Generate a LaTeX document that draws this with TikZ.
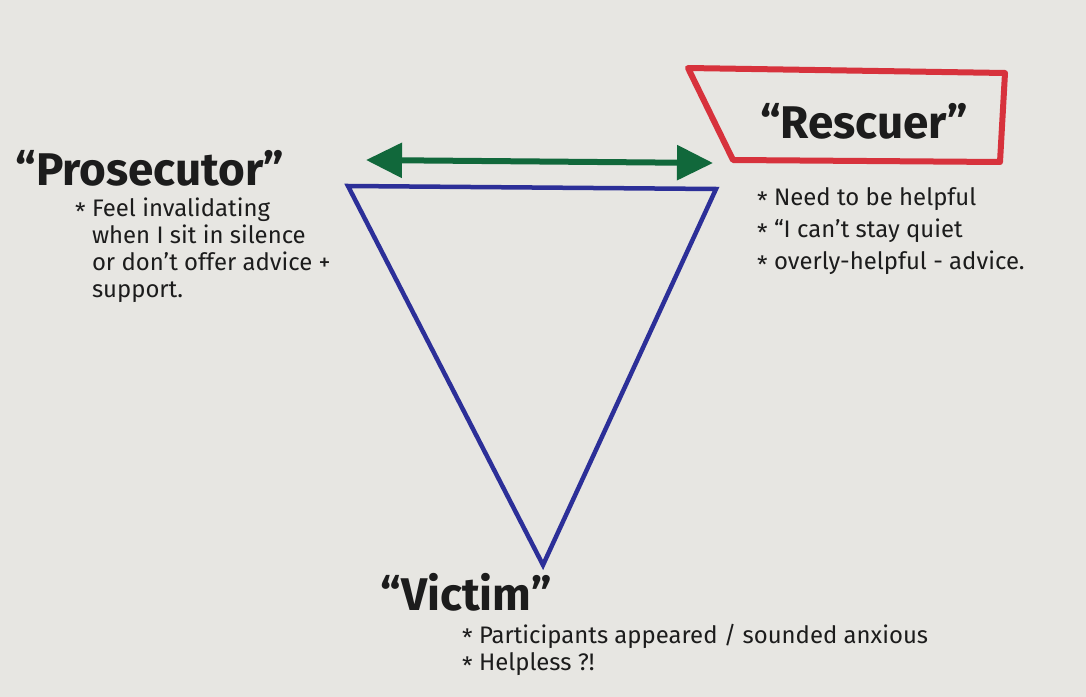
\documentclass[tikz,border=0pt]{standalone}
\usepackage{fontspec}
\setmainfont{Fira Sans}
\usepackage{tikz}
\usetikzlibrary{arrows.meta}
\definecolor{paper}{HTML}{E7E6E2}
\definecolor{ink}{HTML}{1C1C1C}
\definecolor{triblue}{HTML}{2C2F98}
\definecolor{arrgreen}{HTML}{11683B}
\definecolor{boxred}{HTML}{D7323C}
\newcommand\notestar{\raisebox{-.3ex}{*}\ }

\begin{document}
\begin{tikzpicture}[x=1bp, y=-1bp,
    role/.style={font=\fontsize{46}{50}\selectfont\bfseries, text=ink, inner sep=0pt},
    note/.style={font=\fontsize{24}{27}\selectfont, text=ink, anchor=west, inner sep=0pt}]
      \fill[paper] (0,0) rectangle (1086,697);
      % corners of the triangle
      \coordinate (pc) at (348,186);
      \coordinate (rc) at (716,189);
      \coordinate (vc) at (543,565);
      \draw[triblue, line width=4.5bp, line join=miter] (pc) -- (rc) -- (vc) -- cycle;
      % green double arrow
      \coordinate (al) at (366,160);
      \coordinate (ar) at (713,163);
      \draw[arrgreen, line width=6bp,
        {Triangle[length=36bp, width=34bp]}-{Triangle[length=36bp, width=34bp]}]
        (al) -- (ar);
      % red box
      \coordinate (b1) at (688,68);
      \coordinate (b2) at (1005,73);
      \coordinate (b3) at (1000,162);
      \coordinate (b4) at (733,160);
      \draw[boxred, line width=6bp, line join=round] (b1) -- (b2) -- (b3) -- (b4) -- cycle;
      % roles
      \node[role] (pros) at (150,168) {``Prosecutor''};
      \node[role] (resc) at (864,121) {``Rescuer''};
      \node[role] (vict) at (466,592) {``Victim''};
      % notes
      \node[note, anchor=north west, align=left] (pnote) at (75,198)
        {\notestar Feel invalidating\\
         \hphantom{\notestar}when I sit in silence\\
         \hphantom{\notestar}or don't offer advice +\\
         \hphantom{\notestar}support.};
      \foreach[count=\i from 0] \txt in {%
        Need to be helpful,
        ``I can't stay quiet,
        overly-helpful - advice.
        } {
        \node[note] (rnote\i) at (757, 199 + \i*32) {\notestar\txt};
      }
      \foreach[count=\i from 0] \txt in {%
        Participants appeared / sounded anxious,
        Helpless ?!
        } {
        \node[note] (vnote\i) at (462, 636 + \i*28) {\notestar\txt};
      }
    \end{tikzpicture}
\end{document}
